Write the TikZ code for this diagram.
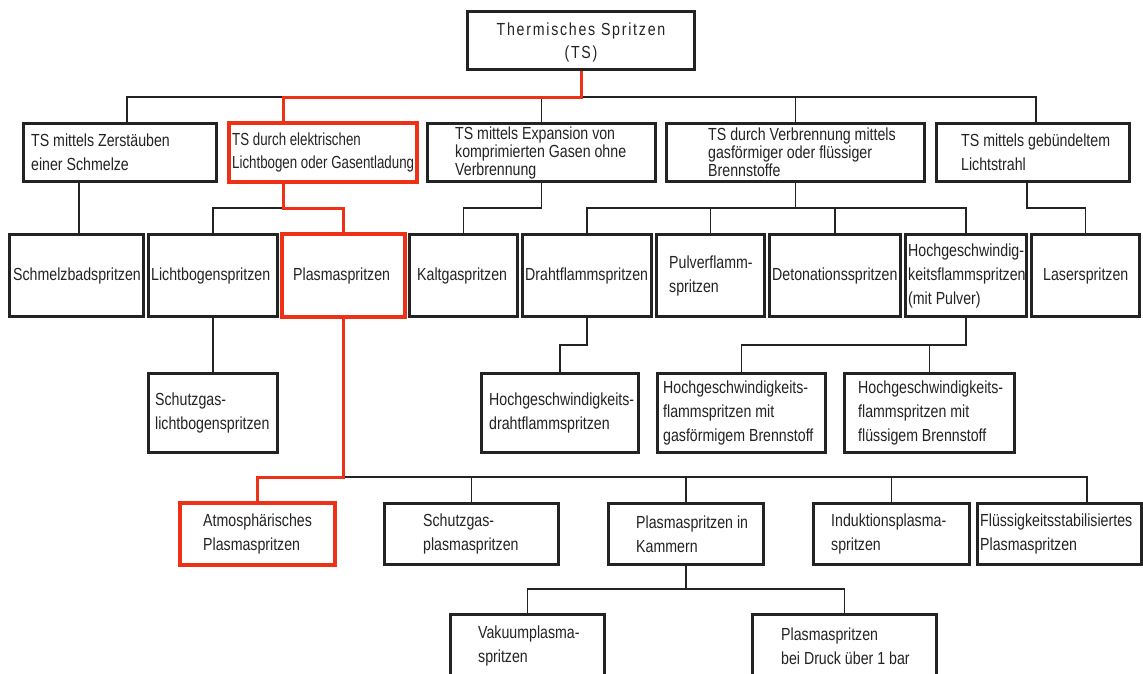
\documentclass[tikz,border=0pt]{standalone}
\usepackage{fontspec}
\setmainfont{Liberation Sans}[FakeStretch=0.81]
\newfontfamily\rootfont{Liberation Sans}[FakeStretch=0.81,LetterSpace=10]
\newfontfamily\narrowfont{Liberation Sans}[FakeStretch=0.76]
\definecolor{hlred}{RGB}{238,48,22}
\definecolor{ink}{RGB}{35,35,35}
\tikzset{
 box/.style={draw=ink, line width=1.8pt, inner sep=0pt, fill=white},
 hlbox/.style={draw=hlred, line width=2.8pt},
 txt/.style={font=\fontsize{17.5}{24}\selectfont, align=left, inner sep=0pt, anchor=west, text=ink},
 tight/.style={font=\fontsize{17.5}{18}\selectfont},
 narrow/.style={font=\narrowfont\fontsize{17.5}{23}\selectfont},
 conn/.style={draw=ink, line width=1.8pt},
 hl/.style={draw=hlred, line width=3pt},
}
\newcommand{\bx}[6][]{\node[box,#1,minimum width={#4-#2},minimum height={#5-#3}] (#6) at ({(#2+#4)/2},{(#3+#5)/2}) {};}
\newcommand{\tx}[4][]{\node[txt,#1] (#2t) at (#3,0 |- #2.center) {#4};}
\begin{document}
\begin{tikzpicture}[x=1pt,y=-1pt]
\useasboundingbox (0,0) rectangle (1143,673);
\clip (0,0) rectangle (1143,673);
% ---------- boxes (positions only) ----------
\bx{468}{12}{694}{69}{root}
\bx{24}{124}{216}{181}{B1}
\bx[hlbox]{230}{124}{416}{181}{B2}
\bx{428}{124}{655}{181}{B3}
\bx{667}{124}{924}{181}{B4}
\bx{937}{124}{1129}{181}{B5}
\bx{10}{235}{143}{316}{sb}
\bx{149}{235}{277}{316}{lb}
\bx[hlbox]{283}{235}{404}{316}{ps}
\bx{410}{235}{517}{316}{kg}
\bx{523}{235}{651}{316}{df}
\bx{657}{235}{764}{316}{pf}
\bx{770}{235}{900}{316}{det}
\bx{906}{235}{1026}{316}{hv}
\bx{1032}{235}{1139}{316}{ls}
\bx{149}{374}{277}{452}{slb}
\bx{482}{374}{638}{452}{hdf}
\bx{658}{374}{825}{452}{hvg}
\bx{845}{374}{1014}{452}{hvl}
\bx[hlbox]{181}{504}{334}{564}{aps}
\bx{385}{504}{558}{564}{sgp}
\bx{609}{504}{763}{564}{pik}
\bx{814}{504}{969}{564}{ind}
\bx{978}{504}{1141}{564}{fls}
\bx{451}{615}{604}{677}{vak}
\bx{753}{615}{936}{677}{dru}
% ---------- connectors (black) ----------
\draw[conn] (B1.north -| 127,0) -- (127,97) -- (1036,97) -- (B5.north -| 1036,0);
\draw[conn] (B3.north) -- (B3.north |- 0,97);
\draw[conn] (B4.north) -- (B4.north |- 0,97);
\draw[conn] (B1.south -| 79,0) -- (sb.north -| 79,0);
\draw[conn] (283,208) -| (lb.north);
\draw[conn] (B3.south) -- (B3.south |- 0,208) -| (kg.north);
\draw[conn] (B4.south) -- (B4.south |- 0,208);
\draw[conn] (df.north) |- (0,208 -| hv.north) -- (hv.north);
\draw[conn] (pf.north) -- (pf.north |- 0,208);
\draw[conn] (det.north) -- (det.north |- 0,208);
\draw[conn] (B5.south -| 1027,0) -- (1027,208) -| (ls.north);
\draw[conn] (lb.south) -- (slb.north);
\draw[conn] (df.south) -- (df.south |- 0,345) -| (hdf.north);
\draw[conn] (hvg.north) |- (0,345 -| hv.south) -- (hv.south);
\draw[conn] (hvl.north) -- (hvl.north |- 0,345);
\draw[conn] (343.5,477) -- (1087,477) -- (fls.north -| 1087,0);
\draw[conn] (sgp.north) -- (sgp.north |- 0,477);
\draw[conn] (pik.north) -- (pik.north |- 0,477);
\draw[conn] (ind.north) -- (ind.north |- 0,477);
\draw[conn] (pik.south) -- (pik.south |- 0,589);
\draw[conn] (vak.north) |- (0,589 -| dru.north) -- (dru.north);
% ---------- highlighted path ----------
\draw[hl] (root.south) |- (283,97) -- (B2.north -| 283,0);
\draw[hl] (B2.south -| 283,0) -- (283,208) -| (ps.north);
\draw[hl] (ps.south) -- (ps.south |- 0,477) -| (aps.north);
% ---------- redraw boxes on top ----------
\foreach \n in {root,B1,B3,B4,B5,sb,lb,kg,df,pf,det,hv,ls,slb,hdf,hvg,hvl,sgp,pik,ind,fls,vak,dru}
  \draw[draw=ink, line width=1.8pt] (\n.north west) rectangle (\n.south east);
\foreach \n in {B2,ps,aps}
  \draw[draw=hlred, line width=2.8pt] (\n.north west) rectangle (\n.south east);
% ---------- texts ----------
\node[txt, anchor=center, align=center, font=\rootfont\fontsize{17.5}{23}\selectfont] (roott) at ([yshift=-2pt]root.center) {Thermisches Spritzen\\(TS)};
\tx{B1}{31}{TS mittels Zerstäuben\\einer Schmelze}
\tx[narrow]{B2}{232}{TS durch elektrischen\\Lichtbogen oder Gasentladung}
\tx[tight]{B3}{455}{TS mittels Expansion von\\komprimierten Gasen ohne\\Verbrennung}
\tx[tight]{B4}{708}{TS durch Verbrennung mittels\\gasförmiger oder flüssiger\\Brennstoffe}
\tx{B5}{961}{TS mittels gebündeltem\\Lichtstrahl}
\tx{sb}{13}{Schmelzbadspritzen}
\tx{lb}{151}{Lichtbogenspritzen}
\tx{ps}{293}{Plasmaspritzen}
\tx{kg}{417}{Kaltgaspritzen}
\tx{df}{525}{Drahtflammspritzen}
\tx{pf}{669}{Pulverflamm-\\spritzen}
\tx{det}{772}{Detonationsspritzen}
\tx{hv}{908}{Hochgeschwindig-\\keitsflammspritzen\\(mit Pulver)}
\tx{ls}{1043}{Laserspritzen}
\tx{slb}{155}{Schutzgas-\\lichtbogenspritzen}
\tx{hdf}{489}{Hochgeschwindigkeits-\\drahtflammspritzen}
\tx{hvg}{663}{Hochgeschwindigkeits-\\flammspritzen mit\\gasförmigem Brennstoff}
\tx{hvl}{858}{Hochgeschwindigkeits-\\flammspritzen mit\\flüssigem Brennstoff}
\tx{aps}{203}{Atmosphärisches\\Plasmaspritzen}
\tx{sgp}{423}{Schutzgas-\\plasmaspritzen}
\tx{pik}{636}{Plasmaspritzen in\\Kammern}
\tx{ind}{831}{Induktionsplasma-\\spritzen}
\tx{fls}{980}{Flüssigkeitsstabilisiertes\\Plasmaspritzen}
\tx{vak}{478}{Vakuumplasma-\\spritzen}
\tx{dru}{781}{Plasmaspritzen\\bei Druck über 1 bar}
\end{tikzpicture}
\end{document}
